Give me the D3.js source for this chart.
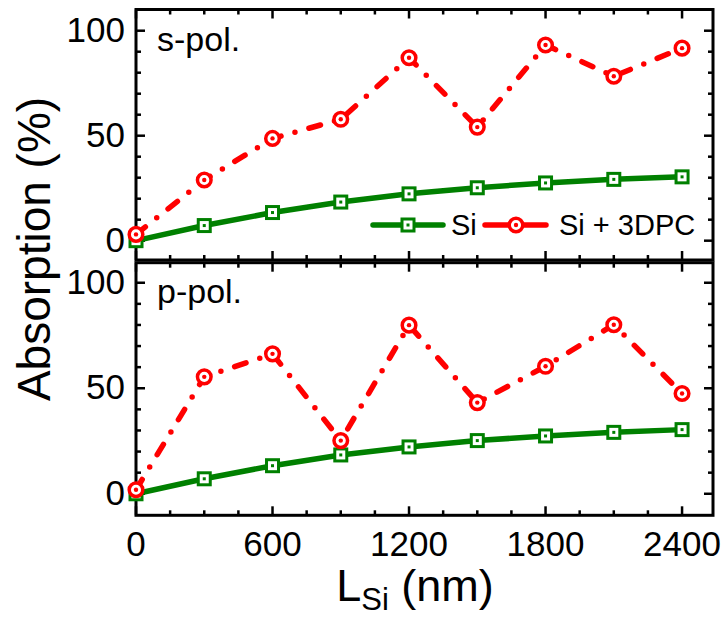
<!DOCTYPE html>
<html>
<head>
<meta charset="utf-8">
<script src="https://cdn.jsdelivr.net/npm/d3@7"></script>
<style>
  html, body { margin: 0; padding: 0; background: #fff; }
  svg { display: block; font-family: "Liberation Sans", Arial, sans-serif; }
</style>
</head>
<body>
<svg id="chart" width="725" height="621"></svg>
<script>
// Si layer thickness (nm)
const thickness = [0, 300, 600, 900, 1200, 1500, 1800, 2100, 2400];
// Absorption (%) of the bare Si layer
const siS = [0, 7.2, 13.4, 18.4, 22.3, 25.2, 27.5, 29.2, 30.4];
const siP = [0, 7.1, 13.3, 18.4, 22.2, 25.2, 27.4, 29.1, 30.4];
// Absorption (%) of Si on the 3D photonic crystal
const pcS = [3.0, 28.9, 48.7, 57.8, 87.1, 54.1, 93.2, 78.3, 91.7];
const pcP = [1.9, 55.4, 66.3, 25.2, 79.9, 43.2, 60.4, 80.1, 47.5];

const xTicks = [0, 600, 1200, 1800, 2400];
const yTicks = [0, 50, 100];
const panelNames = ["s-pol.", "p-pol."];
const seriesNames = ["Si", "Si + 3DPC"];

const GREEN = "#008000", RED = "#ff0000";
const svg = d3.select("#chart");

const x = d3.scaleLinear().domain([0, 2536]).range([136, 713]);

const panels = [
  { name: panelNames[0], si: siS, pc: pcS,
    y: d3.scaleLinear().domain([-9.2, 110.1]).range([260, 9.5]), showX: false },
  { name: panelNames[1], si: siP, pc: pcP,
    y: d3.scaleLinear().domain([-10.2, 109.5]).range([515.3, 262.7]), showX: true }
];

const xMinor = d3.range(0, 2536, 150).filter(v => v % 600 !== 0);
const yMinor = d3.range(-10, 111, 10).filter(v => v % 50 !== 0);

panels.forEach(p => {
  const g = svg.append("g");
  const [x0, x1] = x.range();
  const [yb, yt] = p.y.range();

  // inward ticks on all four sides
  const ticks = g.append("g").attr("stroke", "#000").attr("stroke-width", 2.5);
  const addX = (vals, len) => vals.forEach(v => {
    ticks.append("line").attr("x1", x(v)).attr("x2", x(v)).attr("y1", yb).attr("y2", yb - len);
    ticks.append("line").attr("x1", x(v)).attr("x2", x(v)).attr("y1", yt).attr("y2", yt + len);
  });
  const addY = (vals, len) => vals.filter(v => p.y(v) < yb - 1 && p.y(v) > yt + 1).forEach(v => {
    ticks.append("line").attr("y1", p.y(v)).attr("y2", p.y(v)).attr("x1", x0).attr("x2", x0 + len);
    ticks.append("line").attr("y1", p.y(v)).attr("y2", p.y(v)).attr("x1", x1).attr("x2", x1 - len);
  });
  addX(xTicks, 9); addX(xMinor, 5);
  addY(yTicks, 9); addY(yMinor, 5);

  // frame
  g.append("rect").attr("x", x0).attr("y", yt).attr("width", x1 - x0).attr("height", yb - yt)
    .attr("fill", "none").attr("stroke", "#000").attr("stroke-width", 3);

  // y tick labels
  g.selectAll("text.yl").data(yTicks).join("text")
    .attr("x", 125).attr("y", d => p.y(d)).attr("dy", "0.32em")
    .attr("text-anchor", "end").attr("font-size", 35).text(d => d);

  // panel label
  g.append("text").attr("x", 157).attr("y", p.y(100) + 20.5)
    .attr("font-size", 34).text(p.name);

  const line = d3.line().x((d, i) => x(thickness[i])).y(d => p.y(d));

  // bare Si
  g.append("path").datum(p.si).attr("d", line).attr("fill", "none")
    .attr("stroke", GREEN).attr("stroke-width", 5.5);
  const sq = g.selectAll("g.sq").data(p.si).join("g")
    .attr("transform", (d, i) => `translate(${x(thickness[i])},${p.y(d)})`);
  sq.append("rect").attr("x", -6).attr("y", -6).attr("width", 12).attr("height", 12)
    .attr("fill", "#fff").attr("stroke", GREEN).attr("stroke-width", 3);
  sq.append("rect").attr("x", -1.5).attr("y", -1.5).attr("width", 3).attr("height", 3).attr("fill", GREEN);

  // Si + 3DPC, dash-dot
  g.append("path").datum(p.pc).attr("d", line).attr("fill", "none")
    .attr("stroke", RED).attr("stroke-width", 5.5)
    .attr("stroke-linecap", "round").attr("stroke-dasharray", "12 14.5 0 14.5");
  const ci = g.selectAll("g.ci").data(p.pc).join("g")
    .attr("transform", (d, i) => `translate(${x(thickness[i])},${p.y(d)})`);
  ci.append("circle").attr("r", 6.8).attr("fill", "#fff").attr("stroke", RED).attr("stroke-width", 3.5);
  ci.append("circle").attr("r", 2.2).attr("fill", RED);

  if (p.showX) {
    g.selectAll("text.xl").data(xTicks).join("text")
      .attr("x", d => x(d)).attr("y", 556)
      .attr("text-anchor", "middle").attr("font-size", 35).text(d => d);
  }
});

// legend
const leg = svg.append("g");
const ly = 225;
leg.append("line").attr("x1", 373).attr("x2", 443).attr("y1", ly).attr("y2", ly)
  .attr("stroke", GREEN).attr("stroke-width", 5.5).attr("stroke-linecap", "round");
leg.append("rect").attr("x", 402).attr("y", ly - 6).attr("width", 12).attr("height", 12)
  .attr("fill", "#fff").attr("stroke", GREEN).attr("stroke-width", 3);
leg.append("rect").attr("x", 406.5).attr("y", ly - 1.5).attr("width", 3).attr("height", 3).attr("fill", GREEN);
leg.append("text").attr("x", 451).attr("y", 235).attr("font-size", 29).text(seriesNames[0]);
leg.append("line").attr("x1", 485).attr("x2", 546).attr("y1", ly).attr("y2", ly)
  .attr("stroke", RED).attr("stroke-width", 5.5).attr("stroke-linecap", "round");
leg.append("circle").attr("cx", 516).attr("cy", ly).attr("r", 6.8)
  .attr("fill", "#fff").attr("stroke", RED).attr("stroke-width", 3.5);
leg.append("circle").attr("cx", 516).attr("cy", ly).attr("r", 2.2).attr("fill", RED);
leg.append("text").attr("x", 559).attr("y", 235).attr("font-size", 29).text(seriesNames[1]);

// axis titles
svg.append("text").attr("transform", "translate(50,249) rotate(-90)")
  .attr("text-anchor", "middle").attr("font-size", 46).text("Absorption (%)");

const xt = svg.append("text").attr("x", 415).attr("y", 601)
  .attr("text-anchor", "middle").attr("font-size", 45);
xt.append("tspan").text("L");
xt.append("tspan").attr("font-size", 31).attr("dy", 9).text("Si");
xt.append("tspan").attr("dy", -9).text(" (nm)");
</script>
</body>
</html>
